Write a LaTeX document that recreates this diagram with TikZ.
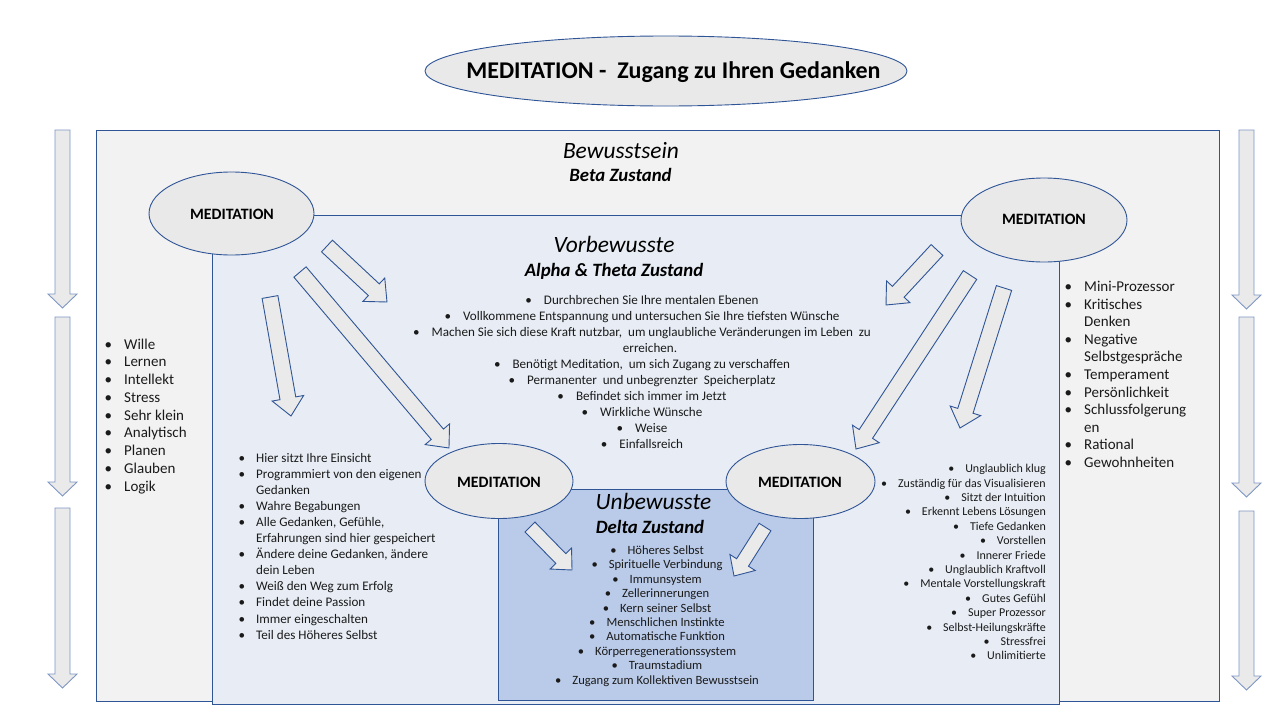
\documentclass[tikz,border=0pt]{standalone}
\usepackage{fontspec}
\setmainfont{Carlito}
\usetikzlibrary{shapes.geometric}
\definecolor{bordblue}{HTML}{2F5597}
\definecolor{arrblue}{HTML}{7F97C4}
\definecolor{outerfill}{HTML}{F2F2F2}
\definecolor{innerfill}{HTML}{E8EDF5}
\definecolor{unbfill}{HTML}{BACBE9}
\definecolor{ellfill}{HTML}{E9E9E9}
\definecolor{arrfill}{HTML}{EAEAEA}
\definecolor{txt}{HTML}{1A1A1A}
\newcommand{\barr}[8][bordblue]{%
  \pgfmathsetmacro\bdx{#4-#2}\pgfmathsetmacro\bdy{#5-#3}%
  \pgfmathsetmacro\bang{atan2(-\bdy,\bdx)}%
  \pgfmathsetmacro\blen{veclen(\bdx,\bdy)}%
  \pgfmathsetmacro\bneck{\blen-#8}%
  \begin{scope}[shift={(#2,#3)},rotate=\bang]
    \path[blockarrow,draw=#1] (0,-#6) -- (\bneck,-#6) -- (\bneck,-#7) -- (\blen,0)
      -- (\bneck,#7) -- (\bneck,#6) -- (0,#6) -- cycle;
  \end{scope}}
\begin{document}
\begin{tikzpicture}[x=1pt,y=-1pt,
  frame/.style={draw=bordblue,line width=0.9pt},
  blockarrow/.style={fill=arrfill,line width=0.9pt,line join=miter},
  medi/.style={ellipse,draw=bordblue,fill=ellfill,line width=0.9pt,inner sep=0pt},
  meditxt/.style={inner sep=0pt,anchor=base,font=\bfseries\fontsize{15.8}{18}\selectfont},
  head/.style={inner sep=0pt,anchor=base,font=\itshape\fontsize{23.4}{26}\selectfont},
  subhead/.style={inner sep=0pt,anchor=base,font=\bfseries\itshape\fontsize{18.8}{21}\selectfont},
  bigitem/.style={inner sep=0pt,anchor=base west,text=txt,font=\fontsize{15}{17}\selectfont},
  miditem/.style={inner sep=0pt,text=txt,font=\fontsize{13.1}{15}\selectfont},
  smallitem/.style={inner sep=0pt,text=txt,font=\fontsize{12.6}{14}\selectfont},
  tinyitem/.style={inner sep=0pt,anchor=base east,text=txt,font=\fontsize{12}{13}\selectfont}]
\fill[white] (0,0) rectangle (1280,720);
\useasboundingbox (0,0) rectangle (1280,720);

% title
\node[medi,minimum width=482pt,minimum height=70pt] (title) at (666,71) {};
\node[inner sep=0pt,anchor=base,font=\bfseries\fontsize{24}{28}\selectfont] (titletxt) at (673.5,78)
  {MEDITATION -\ \ Zugang zu Ihren Gedanken};

% rectangles
\path[frame,fill=outerfill] (96,130) rectangle (1219,701);
\path[frame,fill=innerfill] (212,215) rectangle (1059,704);
\path[frame,fill=unbfill] (498,489) rectangle (813,700);

% headings
\node[head] (bew) at (621,158) {Bewusstsein};
\node[subhead] (beta) at (620.5,181) {Beta Zustand};
\node[head] (vor) at (614,252) {Vorbewusste};
\node[subhead] (alpha) at (614,276) {Alpha \& Theta Zustand};
\node[head] (unb) at (653.5,509) {Unbewusste};
\node[subhead] (delta) at (650,533) {Delta Zustand};

% meditation ellipses
\node[medi,minimum width=165pt,minimum height=83pt] (m1) at (231.5,213.5) {};
\node[meditxt] (m1t) at (232,219) {MEDITATION};
\node[medi,minimum width=166pt,minimum height=84pt] (m2) at (1044,220) {};
\node[meditxt] (m2t) at (1044,224.5) {MEDITATION};
\node[medi,minimum width=148pt,minimum height=75pt] (m3) at (499,481) {};
\node[meditxt] (m3t) at (499,487) {MEDITATION};
\node[medi,minimum width=149pt,minimum height=74pt] (m4) at (800.5,481.5) {};
\node[meditxt] (m4t) at (800,487) {MEDITATION};

% vertical arrows
\barr[arrblue]{62.5}{130}{62.5}{308}{7.5}{14.5}{14}
\barr[arrblue]{62.5}{317}{62.5}{496}{7.5}{14.5}{14}
\barr[arrblue]{62.5}{508}{62.5}{688}{7.5}{14.5}{14}
\barr[arrblue]{1246.5}{130}{1246.5}{309}{7.5}{14.5}{14}
\barr[arrblue]{1246.5}{317}{1246.5}{497}{7.5}{14.5}{14}
\barr[arrblue]{1246.5}{511}{1246.5}{690}{7.5}{14.5}{14}

% diagonal arrows
\barr{327}{246}{387}{302}{8}{16}{18}
\barr{300}{272}{449}{448}{8}{16}{18}
\barr{270}{297}{291}{416}{8}{16}{18}
\barr{937}{250}{886}{305}{8}{16}{18}
\barr{970}{275}{856}{449}{8}{16}{18}
\barr{1004}{288}{960}{428}{8}{16}{18}
\barr{530}{527}{572}{570}{7}{15}{16}
\barr{765}{527}{734}{576}{7}{15}{16}

% left list
\foreach \t [count=\i from 0] in {Wille,Lernen,Intellekt,Stress,Sehr klein,Analytisch,Planen,Glauben,Logik}
  \node[bigitem] (l\i) at (124,{349+17.75*\i}) {\llap{\textbullet\hspace{12pt}}\t};

% right list
\foreach \b/\t [count=\i from 0] in {1/Mini-Prozessor,1/Kritisches,0/Denken,1/Negative,0/Selbstgespräche,1/Temperament,1/Persönlichkeit,1/Schlussfolgerung,0/en,1/Rational,1/Gewohnheiten}
  \node[bigitem] (r\i) at (1084,{291.7+17.56*\i}) {\ifnum\b=1 \llap{\textbullet\hspace{12pt}}\fi\t};

% center list
\foreach \b/\t [count=\i from 0] in {1/Durchbrechen Sie Ihre mentalen Ebenen,
  1/Vollkommene Entspannung und untersuchen Sie Ihre tiefsten Wünsche,
  1/{Machen Sie sich diese Kraft nutzbar,\ \ um unglaubliche Veränderungen im Leben\ \ zu},
  0/erreichen.,
  1/{Benötigt Meditation,\ \ um sich Zugang zu verschaffen},
  1/Permanenter\ \ und unbegrenzter\ \ Speicherplatz,
  1/Befindet sich immer im Jetzt,
  1/Wirkliche Wünsche,
  1/Weise,
  1/Einfallsreich}
  \node[miditem,anchor=base] (c\i) at ({642+8*(1-\b)},{304+16*\i}) {\ifnum\b=1 \textbullet\hspace{12pt}\fi\t};

% Hier list
\foreach \b/\t [count=\i from 0] in {1/Hier sitzt Ihre Einsicht,
  1/Programmiert von den eigenen,
  0/Gedanken,
  1/Wahre Begabungen,
  1/{Alle Gedanken,\ Gefühle,},
  0/Erfahrungen sind hier gespeichert,
  1/{Ändere\ deine Gedanken, ändere},
  0/dein Leben,
  1/Weiß den Weg zum Erfolg,
  1/Findet deine Passion,
  1/Immer eingeschalten,
  1/Teil des Höheres Selbst}
  \node[miditem,anchor=base west] (h\i) at (256,{462.7+16.03*\i}) {\ifnum\b=1 \llap{\textbullet\hspace{11pt}}\fi\t};

% right-bottom list
\foreach \t [count=\i from 0] in {Unglaublich klug,Zuständig für das Visualisieren,Sitzt der Intuition,
  Erkennt Lebens Lösungen,Tiefe Gedanken,Vorstellen,Innerer Friede,Unglaublich Kraftvoll,
  Mentale Vorstellungskraft,Gutes Gefühl,Super Prozessor,Selbst-Heilungskräfte,Stressfrei,Unlimitierte}
  \node[tinyitem] (q\i) at (1046,{472.7+14.4*\i}) {\textbullet\hspace{11pt}\t};

% Unbewusste list
\foreach \t [count=\i from 0] in {Höheres Selbst,Spirituelle Verbindung,Immunsystem,Zellerinnerungen,
  Kern seiner Selbst,Menschlichen Instinkte,Automatische Funktion,Körperregenerationssystem,
  Traumstadium,Zugang zum Kollektiven Bewusstsein}
  \node[smallitem,anchor=base] (u\i) at (657,{554.3+14.44*\i}) {\textbullet\hspace{11pt}\t};
\end{tikzpicture}
\end{document}
